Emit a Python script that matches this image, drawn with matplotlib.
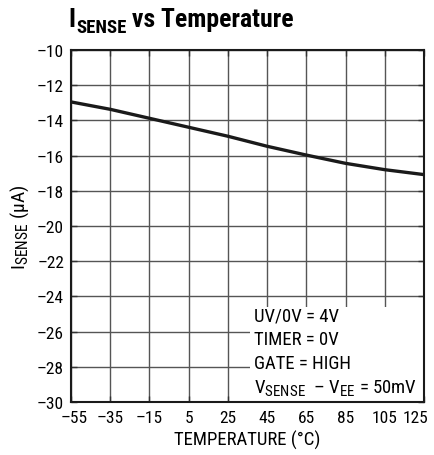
import matplotlib
matplotlib.use("Agg")
import matplotlib.pyplot as plt
import matplotlib._mathtext as _mt
import matplotlib.transforms as mtrans
from matplotlib.patches import Rectangle
from matplotlib import font_manager

names = {f.name for f in font_manager.fontManager.ttflist}
FONT = next((n for n in ["Roboto Condensed", "Archivo Narrow", "Liberation Sans Narrow",
                         "Barlow Semi Condensed", "Liberation Sans"] if n in names), "DejaVu Sans")
plt.rcParams['font.family'] = [FONT, 'DejaVu Sans']
plt.rcParams['mathtext.fontset'] = 'custom'
plt.rcParams['mathtext.rm'] = FONT
plt.rcParams['mathtext.it'] = FONT
plt.rcParams['mathtext.bf'] = FONT + ':bold'
_mt.SHRINK_FACTOR = 0.8

temperature = [-55, -35, -15, 5, 25, 45, 65, 85, 105, 125]
isense = [-12.95, -13.37, -13.88, -14.39, -14.9, -15.47, -15.97, -16.44, -16.8, -17.08]
xticks = [-55, -35, -15, 5, 25, 45, 65, 85, 105, 125]
yticks = [-30, -28, -26, -24, -22, -20, -18, -16, -14, -12, -10]
notes = ["UV/0V = 4V", "TIMER = 0V", "GATE = HIGH",
         "V$_{\\rm SENSE}$  \u2013 V$_{\\rm EE}$ = 50mV"]

W, H = 435, 456
fig = plt.figure(figsize=(W/100, H/100), dpi=100)
ax = fig.add_axes([71/W, 1-403/H, 353/W, 352/H])
ax.set_xlim(-55, 125)
ax.set_ylim(-30, -10)

for v in xticks:
    ax.axvline(v, color='#555555', lw=1.0, zorder=1)
for v in yticks:
    ax.axhline(v, color='#555555', lw=1.0, zorder=1)

ax.add_patch(Rectangle(((250-71)/353, 0), 1-(250-71)/353, (403-308)/352,
                       transform=ax.transAxes, facecolor='white', edgecolor='none', zorder=2))

ax.plot(temperature, isense, color='#1a1a1a', lw=2.4, zorder=3, solid_capstyle='butt')

ax.set_xticks(xticks)
ax.set_yticks(yticks)
ax.set_xticklabels([str(t).replace('-', '\u2013') for t in xticks])
ax.set_yticklabels([str(t).replace('-', '\u2013') for t in yticks])
ax.tick_params(direction='in', length=4, width=1, labelsize=12.5,
               top=True, right=True, color='#333333')
ax.tick_params(axis='x', pad=6)
ax.tick_params(axis='y', pad=5)
for s in ax.spines.values():
    s.set_linewidth(1.5)
    s.set_color('#1a1a1a')
    s.set_zorder(4)

# nudge the end labels inward like the reference
xl = ax.get_xticklabels()
xl[0].set_transform(xl[0].get_transform() + mtrans.ScaledTranslation(3/100, 0, fig.dpi_scale_trans))
xl[-1].set_transform(xl[-1].get_transform() + mtrans.ScaledTranslation(-8/100, 0, fig.dpi_scale_trans))

y0 = 0.247
for i, t in enumerate(notes):
    ax.text((254-71)/353, y0 - i*0.068, t, transform=ax.transAxes, fontsize=13.5,
            va='center', ha='left', zorder=5)

ax.set_xlabel("TEMPERATURE (°C)", fontsize=13.5, labelpad=3)
ax.set_ylabel("I$_{\\rm SENSE}$ (µA)", fontsize=14, labelpad=4)

# title built from pieces so the subscript keeps its own size
r = fig.canvas.get_renderer()
base = 1 - 27/H
t1 = fig.text(68/W, base, "I", fontsize=19, fontweight='bold', va='baseline')
b1 = t1.get_window_extent(r)
t2 = fig.text(b1.x1/W + 1/W, base - 6/H, "SENSE", fontsize=13.5, fontweight='bold', va='baseline')
b2 = t2.get_window_extent(r)
fig.text(b2.x1/W, base, " vs Temperature", fontsize=18.5, fontweight='bold', va='baseline')

fig.savefig("out.png", dpi=100)
